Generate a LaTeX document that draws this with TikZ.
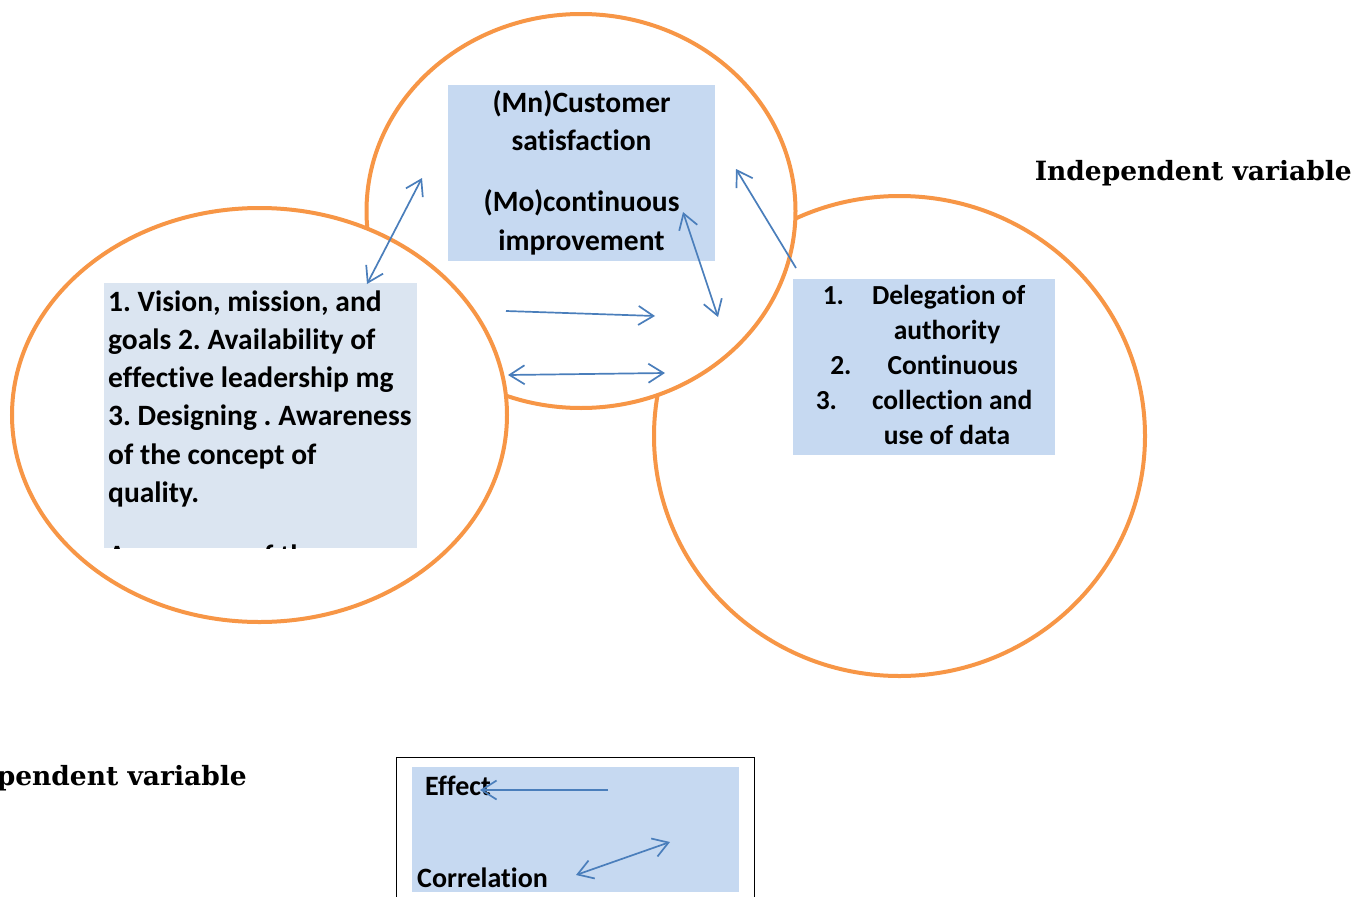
\documentclass[tikz,border=0pt]{standalone}
\usepackage{fontspec}
\setmainfont{Carlito}[Ligatures=NoCommon]
\newfontfamily\serifbold{DejaVu Serif}
\usetikzlibrary{arrows.meta}
\frenchspacing
\definecolor{ringorange}{HTML}{F79646}
\definecolor{arrowblue}{HTML}{4A7EBB}
\definecolor{boxblue}{HTML}{C6D9F1}
\definecolor{boxpale}{HTML}{DBE5F1}
\tikzset{
  ring/.style={draw=ringorange, line width=4pt, fill=white},
  link/.style={draw=arrowblue, line width=1.7pt},
  bigtext/.style={font=\bfseries\fontsize{29.5}{38.3}\selectfont, inner sep=0pt},
  smalltext/.style={font=\bfseries\fontsize{27.5}{35}\selectfont, inner sep=0pt},
  varlabel/.style={font=\serifbold\bfseries\fontsize{26.5}{32}\selectfont, inner sep=0pt}
}
\begin{document}
\begin{tikzpicture}[x=1pt, y=-1pt, >={Straight Barb[length=15pt,width=19pt]}]
  \useasboundingbox (0,0) rectangle (1371,897);
  % 右の円
  \draw[ring] (899.5,436) ellipse (245.5pt and 240pt);
  % 上の円
  \draw[ring] (581,211) ellipse (214.5pt and 197pt);
  % 左の円
  \draw[ring] (259.5,415) ellipse (247.5pt and 207pt);
  % 上の箱
  \node[fill=boxblue, minimum width=267pt, minimum height=176pt, inner sep=0pt] (topbox) at (581.5,173) {};
  \node[bigtext, align=center, anchor=base] (moderator) at (581.5,250)
    {(Mn)Customer\\satisfaction\\[22.7pt](Mo)continuous\\improvement};
  % 左の箱（下が切れている）
  \begin{scope}
    \clip (104,283) rectangle (417,548);
    \node[fill=boxpale, anchor=north west, minimum width=313pt, minimum height=265pt, inner sep=0pt] (leftbox) at (104,283) {};
    \node[bigtext, align=left, anchor=base west] (leftlist) at (108,565.5)
      {1. Vision, mission, and\\goals 2. Availability of\\effective leadership mg\\3. Designing . Awareness\\of the concept of\\quality.\\[24.7pt]Awareness of the};
  \end{scope}
  % 右の箱
  \node[fill=boxblue, minimum width=262pt, minimum height=176pt, inner sep=0pt] (rightbox) at (924,367) {};
  \node[smalltext, align=center, anchor=base] (rightlist) at (924,444.5)
    {1.\hspace{28pt}Delegation of\\\hspace*{46pt}authority\\2.\hspace{36pt}Continuous\\3.\hspace{35pt}collection and\\\hspace*{46pt}use of data};
  % 変数の名前
  \node[varlabel, anchor=base east] (indeplabel) at (1352,180.5) {Independent variable};
  \node[varlabel, anchor=base east] (deplabel) at (247,785.5) {Dependent variable};
  % 矢印の端
  \coordinate (a1) at (422,178);
  \coordinate (a2) at (367,284);
  \coordinate (b1) at (506,311);
  \coordinate (b2) at (655,316);
  \coordinate (c1) at (508,375);
  \coordinate (c2) at (665,373);
  \coordinate (d1) at (683,212);
  \coordinate (d2) at (718,317);
  \coordinate (e1) at (796,268);
  \coordinate (e2) at (736,169);
  % 矢印
  \draw[link, <->] (a1) -- (a2);
  \draw[link, ->] (b1) -- (b2);
  \draw[link, <->] (c1) -- (c2);
  \draw[link, <->] (d1) -- (d2);
  \draw[link, ->] (e1) -- (e2);
  % 凡例
  \draw[line width=1pt] (396,757) rectangle (754,905);
  \node[fill=boxblue, anchor=north west, minimum width=327pt, minimum height=125pt, inner sep=0pt] (legend) at (412,767) {};
  \node[font=\bfseries\fontsize{28}{34}\selectfont, inner sep=0pt, anchor=base west] (effect) at (425,795) {Effect};
  \node[font=\bfseries\fontsize{28}{34}\selectfont, inner sep=0pt, anchor=base west] (correl) at (417,887) {Correlation};
  \coordinate (f1) at (608,790);
  \coordinate (f2) at (480,790);
  \coordinate (g1) at (576,875);
  \coordinate (g2) at (670,842);
  \draw[link, ->] (f1) -- (f2);
  \draw[link, <->] (g1) -- (g2);
\end{tikzpicture}
\end{document}
